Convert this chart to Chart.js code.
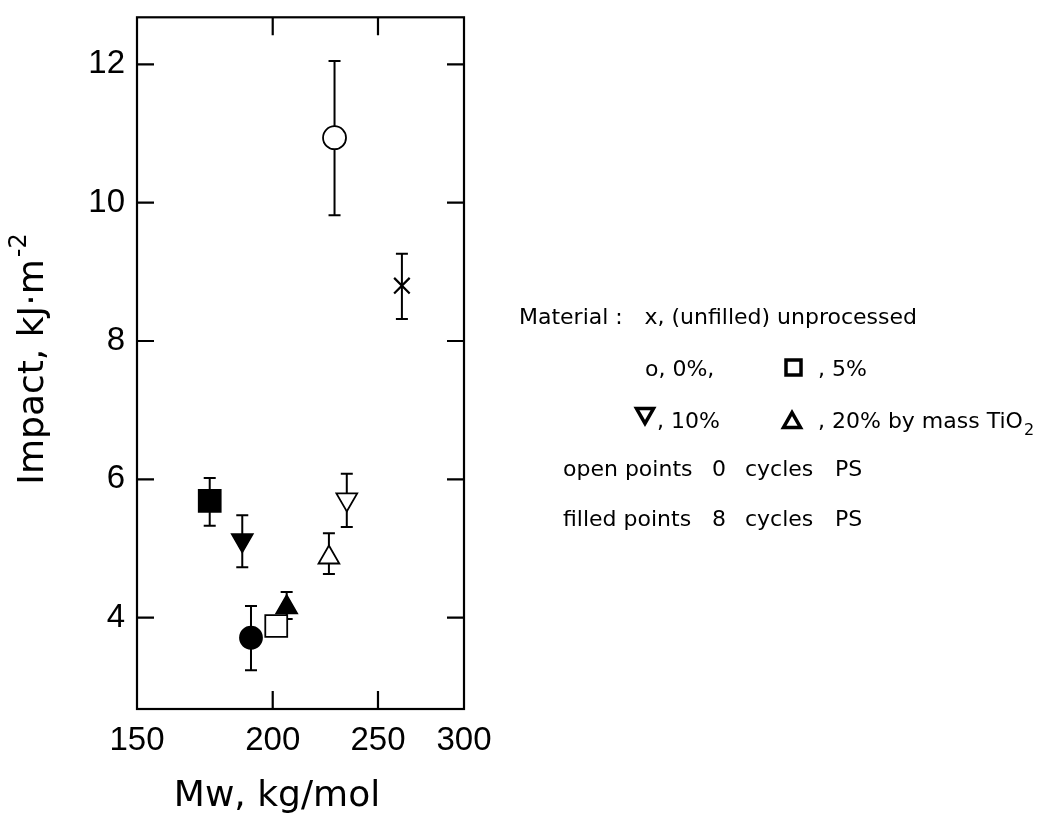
<!DOCTYPE html>
<html>
<head>
<meta charset="utf-8">
<script src="https://cdn.jsdelivr.net/npm/chart.js@4.4.0/dist/chart.umd.min.js"></script>
<style>body{margin:0;background:#fff}</style>
</head>
<body>
<canvas id="myChart" width="1057" height="821"></canvas>
<script>
// data
let seriesNames = ['unprocessed', '0% 0 cycles', '0% 8 cycles', '5% 0 cycles', '5% 8 cycles',
  '10% 0 cycles', '10% 8 cycles', '20% 0 cycles', '20% 8 cycles'];
let mwValues = [263, 228, 191, 201.5, 175, 234, 187.5, 225.3, 206];
let impactValues = [8.80, 10.94, 3.71, 3.88, 5.69, 5.71, 5.12, 4.87, 4.15];
let errLow = [8.32, 9.82, 3.24, null, 5.33, 5.31, 4.73, 4.63, 3.98];
let errHigh = [9.26, 12.05, 4.17, null, 6.02, 6.08, 5.48, 5.22, 4.37];
let xTicks = [150, 200, 250, 300];
let yTicks = [4, 6, 8, 10, 12];

// marker styles
let styles = ['crossRot', 'circle', 'circle', 'rect', 'rect', 'triangle', 'triangle', 'triangle', 'triangle'];
let rotations = [0, 0, 0, 0, 0, 180, 180, 0, 0];
let filled = [false, false, true, false, true, false, true, false, true];
let radii = [11, 11.5, 11, 15.5, 15.5, 12, 12, 12, 12];

let ctx = document.getElementById('myChart').getContext('2d');

let errorBars = {
  id: 'errorBars',
  beforeDatasetsDraw(chart) {
    let c = chart.ctx, xs = chart.scales.x, ys = chart.scales.y;
    c.save();
    c.strokeStyle = '#000';
    c.lineWidth = 2;
    mwValues.forEach((m, i) => {
      if (errLow[i] == null) return;
      let px = xs.getPixelForValue(m);
      let lo = ys.getPixelForValue(errLow[i]);
      let hi = ys.getPixelForValue(errHigh[i]);
      c.beginPath();
      c.moveTo(px, lo); c.lineTo(px, hi);
      c.moveTo(px - 6, lo); c.lineTo(px + 6, lo);
      c.moveTo(px - 6, hi); c.lineTo(px + 6, hi);
      c.stroke();
    });
    c.restore();
  }
};

function tri(c, x, y, s, down) {
  let h = s * 0.87;
  c.beginPath();
  if (down) {
    c.moveTo(x - s / 2, y - h / 2); c.lineTo(x + s / 2, y - h / 2); c.lineTo(x, y + h / 2);
  } else {
    c.moveTo(x - s / 2, y + h / 2); c.lineTo(x + s / 2, y + h / 2); c.lineTo(x, y - h / 2);
  }
  c.closePath();
  c.stroke();
}

let frame = {
  id: 'frame',
  afterDraw(chart) {
    let c = chart.ctx, a = chart.chartArea, xs = chart.scales.x, ys = chart.scales.y;
    c.save();
    c.strokeStyle = '#000';
    c.lineWidth = 2.2;
    c.strokeRect(a.left, a.top, a.right - a.left, a.bottom - a.top);
    c.beginPath();
    yTicks.forEach(v => {
      let py = ys.getPixelForValue(v);
      c.moveTo(a.left, py); c.lineTo(a.left + 17, py);
      c.moveTo(a.right, py); c.lineTo(a.right - 17, py);
    });
    [200, 250].forEach(v => {
      let px = xs.getPixelForValue(v);
      c.moveTo(px, a.bottom); c.lineTo(px, a.bottom - 18);
      c.moveTo(px, a.top); c.lineTo(px, a.top + 18);
    });
    c.stroke();

    // axis titles
    c.fillStyle = '#000';
    c.font = '36px "DejaVu Sans", sans-serif';
    c.textAlign = 'center';
    c.textBaseline = 'alphabetic';
    c.fillText('Mw, kg/mol', 277, 806);

    c.save();
    c.translate(43, 359);
    c.rotate(-Math.PI / 2);
    c.textAlign = 'left';
    let main = 'Impact, kJ\u00b7m';
    let w1 = c.measureText(main).width;
    c.font = '24px "DejaVu Sans", sans-serif';
    let w2 = c.measureText('-2').width;
    let start = -(w1 + w2 + 2) / 2;
    c.font = '36px "DejaVu Sans", sans-serif';
    c.fillText(main, start, 0);
    c.font = '24px "DejaVu Sans", sans-serif';
    c.fillText('-2', start + w1 + 2, -17);
    c.restore();

    // legend text
    c.textAlign = 'left';
    c.font = '22px "DejaVu Sans", sans-serif';
    c.fillText('Material :', 519, 324);
    c.textAlign = 'right';
    c.fillText('x, (unfilled) unprocessed', 917, 324);
    c.textAlign = 'left';
    c.fillText('o, 0%,', 645, 376);
    c.fillText(', 5%', 818, 376);
    c.fillText(', 10%', 657, 428);
    c.fillText(', 20% by mass TiO', 818, 428);
    let tw = c.measureText(', 20% by mass TiO').width;
    c.font = '16px "DejaVu Sans", sans-serif';
    c.fillText('2', 818 + tw + 1, 435);
    c.font = '22px "DejaVu Sans", sans-serif';
    c.fillText('open points', 563, 476);
    c.fillText('0', 712, 476);
    c.fillText('cycles', 745, 476);
    c.fillText('PS', 835, 476);
    c.fillText('filled points', 563, 526);
    c.fillText('8', 712, 526);
    c.fillText('cycles', 745, 526);
    c.fillText('PS', 835, 526);

    c.lineWidth = 3.5;
    c.strokeRect(786, 360, 15, 15);
    tri(c, 645, 416, 17, true);
    tri(c, 792, 420, 17, false);
    c.restore();
  }
};

let myChart = new Chart(ctx, {
  type: 'scatter',
  data: {
    datasets: seriesNames.map((name, i) => ({
      label: name,
      data: [{ x: mwValues[i], y: impactValues[i] }],
      pointStyle: styles[i],
      rotation: rotations[i],
      pointRadius: radii[i],
      pointHoverRadius: radii[i],
      borderColor: '#000',
      borderWidth: styles[i] == 'crossRot' ? 2.2 : 1.8,
      backgroundColor: filled[i] ? '#000' : '#fff'
    }))
  },
  plugins: [errorBars, frame],
  options: {
    responsive: false,
    animation: false,
    layout: { padding: { top: 17, right: 593, bottom: 0, left: 0 } },
    plugins: { legend: { display: false }, tooltip: { enabled: false } },
    scales: {
      x: {
        type: 'logarithmic',
        min: 150,
        max: 300,
        afterBuildTicks: (scale) => { scale.ticks = xTicks.map(v => ({ value: v })); },
        afterFit: (scale) => { scale.height = 112; scale.paddingLeft = 0; scale.paddingRight = 0; },
        grid: { display: false, drawTicks: false },
        border: { display: false },
        ticks: {
          autoSkip: false,
          maxRotation: 0,
          padding: 12,
          color: '#000',
          font: { family: '"Liberation Sans", Arial, sans-serif', size: 33 },
          callback: (v) => v
        }
      },
      y: {
        min: 2.68,
        max: 12.68,
        afterBuildTicks: (scale) => { scale.ticks = yTicks.map(v => ({ value: v })); },
        afterFit: (scale) => { scale.width = 137; scale.paddingTop = 0; scale.paddingBottom = 0; },
        grid: { display: false, drawTicks: false },
        border: { display: false },
        ticks: {
          padding: 12,
          color: '#000',
          font: { family: '"Liberation Sans", Arial, sans-serif', size: 33 },
          callback: (v) => v
        }
      }
    }
  }
});
</script>
</body>
</html>
